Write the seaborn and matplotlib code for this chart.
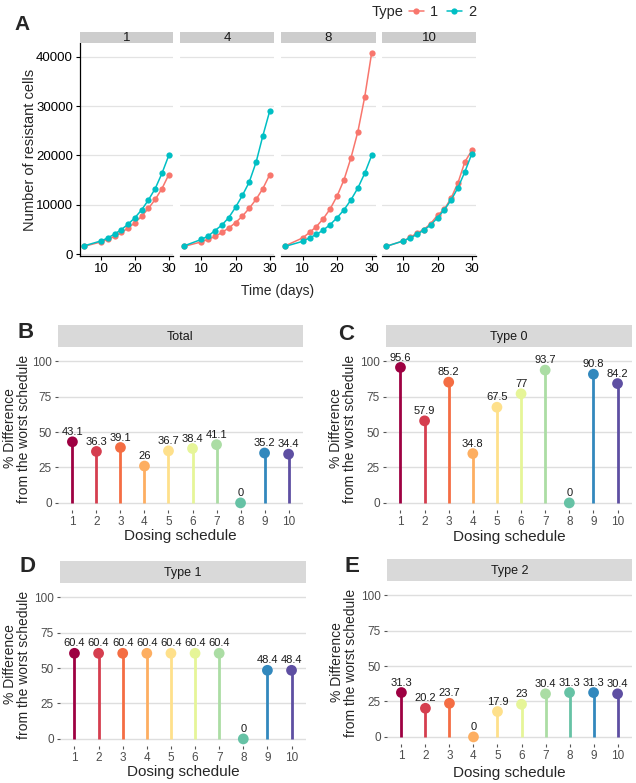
import pandas as pd
import matplotlib
matplotlib.use('Agg')
import matplotlib.pyplot as plt
import seaborn as sns

# --- data: panel A (resistant cells over time) ---
days = [5, 10, 12, 14, 16, 18, 20, 22, 24, 26, 28, 30]
facets = [1, 4, 8, 10]
type1_s1 = [1600, 2500, 3000, 3600, 4400, 5300, 6400, 7700, 9300, 11100, 13300, 16100]
type2_s1 = [1700, 2700, 3300, 4100, 5000, 6100, 7400, 9000, 11000, 13300, 16400, 20000]
type1_s4 = [1600, 2500, 3000, 3600, 4400, 5300, 6400, 7700, 9300, 11100, 13300, 16100]
type2_s4 = [1700, 3000, 3700, 4800, 5900, 7400, 9500, 11900, 14600, 18600, 24000, 29000]
type1_s8 = [1700, 3300, 4400, 5600, 7200, 9200, 11800, 15100, 19500, 24800, 31900, 40800]
type2_s8 = [1600, 2600, 3300, 4000, 4900, 6000, 7400, 9000, 11000, 13400, 16400, 20000]
type1_s10 = [1600, 2700, 3400, 4300, 5000, 6200, 7900, 9100, 11400, 14500, 18700, 21000]
type2_s10 = [1600, 2700, 3300, 4000, 4900, 5900, 7400, 9000, 11000, 13500, 16700, 20300]

# --- data: panels B-E (% difference from the worst schedule) ---
schedules = [1, 2, 3, 4, 5, 6, 7, 8, 9, 10]
diff_total = [43.1, 36.3, 39.1, 26, 36.7, 38.4, 41.1, 0, 35.2, 34.4]
diff_type0 = [95.6, 57.9, 85.2, 34.8, 67.5, 77, 93.7, 0, 90.8, 84.2]
diff_type1 = [60.4, 60.4, 60.4, 60.4, 60.4, 60.4, 60.4, 0, 48.4, 48.4]
diff_type2 = [31.3, 20.2, 23.7, 0, 17.9, 23, 30.4, 31.3, 31.3, 30.4]

W, H = 636, 783
type_colors = {'1': '#F8766D', '2': '#00BFC4'}
spectral = ['#9E0142', '#D53E4F', '#F46D43', '#FDAE61', '#FEE08B',
            '#E6F598', '#ABDDA4', '#66C2A5', '#3288BD', '#5E4FA2']

sns.set_theme(style='white')
plt.rcParams['font.family'] = ['Liberation Sans', 'DejaVu Sans']

fig = plt.figure(figsize=(W / 100, H / 100), dpi=100)


def px_axes(x0, y0, x1, y1):
    return fig.add_axes([x0 / W, 1 - y1 / H, (x1 - x0) / W, (y1 - y0) / H])


def strip(x0, y0, x1, y1, label, color, size):
    s = px_axes(x0, y0, x1, y1)
    s.set_facecolor(color)
    s.set_xticks([])
    s.set_yticks([])
    for sp in s.spines.values():
        sp.set_visible(False)
    s.text(0.5, 0.45, label, ha='center', va='center', fontsize=size,
           color='#1a1a1a', transform=s.transAxes)


def ftext(x, y, s, **kw):
    fig.text(x / W, 1 - y / H, s, **kw)


# ---------------- panel A ----------------
rows = []
series = {1: (type1_s1, type2_s1), 4: (type1_s4, type2_s4),
          8: (type1_s8, type2_s8), 10: (type1_s10, type2_s10)}
for f in facets:
    t1, t2 = series[f]
    for d, a, b in zip(days, t1, t2):
        rows.append((f, d, '1', a))
        rows.append((f, d, '2', b))
growth = pd.DataFrame(rows, columns=['schedule', 'day', 'Type', 'cells'])

ymax = growth.cells.max()
ymin = growth.cells.min()
pad = (ymax - ymin) * 0.05
x_edges = [(80, 173), (180, 274), (281, 376), (382, 476)]

handles = labels = None
for i, f in enumerate(facets):
    x0, x1 = x_edges[i]
    ax = px_axes(x0, 43, x1, 256)
    sub = growth[growth.schedule == f]
    sns.lineplot(data=sub, x='day', y='cells', hue='Type', hue_order=['1', '2'],
                 palette=type_colors, marker='o', markersize=4.5,
                 markeredgewidth=0, linewidth=1.1, errorbar=None,
                 legend=(i == 0), ax=ax)
    if i == 0:
        handles, labels = ax.get_legend_handles_labels()
        ax.get_legend().remove()
    ax.set_xlim(3.75, 31.25)
    ax.set_ylim(ymin - pad, ymax + pad)
    ax.set_xticks([10, 20, 30])
    ax.set_yticks([0, 10000, 20000, 30000, 40000])
    ax.set_xlabel('')
    ax.set_ylabel('')
    ax.yaxis.grid(True, color='#e3e3e3', lw=0.9)
    ax.set_axisbelow(True)
    for side in ['top', 'right']:
        ax.spines[side].set_visible(False)
    ax.spines['bottom'].set_color('black')
    ax.spines['bottom'].set_linewidth(0.9)
    if i == 0:
        ax.spines['left'].set_color('black')
        ax.spines['left'].set_linewidth(0.9)
        ax.tick_params(axis='y', left=True, length=3, width=0.8, color='black',
                       labelsize=9.5, labelcolor='black', pad=2)
    else:
        ax.spines['left'].set_visible(False)
        ax.tick_params(axis='y', left=False, labelleft=False)
    ax.tick_params(axis='x', bottom=True, length=3, width=0.8, color='black',
                   labelsize=9.5, labelcolor='black', pad=2)
    strip(x0, 32, x1, 43, str(f), '#cdcdcd', 9.5)

ftext(278, 291, 'Time (days)', ha='center', va='center', fontsize=10)
ftext(30, 150, 'Number of resistant cells', ha='center', va='center',
      rotation=90, fontsize=10.5)
ftext(372, 12, 'Type', ha='left', va='center', fontsize=10.5)
fig.legend(handles, labels, loc='center left', bbox_to_anchor=(409 / W, 1 - 12 / H),
           ncol=2, frameon=False, handlelength=1.0, handletextpad=0.45,
           columnspacing=0.6, fontsize=10.5, borderaxespad=0, borderpad=0)
ftext(22, 24, 'A', ha='center', va='center', fontsize=15, fontweight='bold')


# ---------------- panels B-E ----------------
def lollipop(rect, title, values, letter, letter_xy, ylab_x, xlab_y):
    x0, y0, x1, y1 = rect
    ax = px_axes(x0, y0, x1, y1)
    df = pd.DataFrame({'schedule': schedules, 'value': values,
                       'label': [str(s) for s in schedules]})
    ax.vlines(df.schedule, 0, df.value, colors=spectral, lw=2, zorder=2)
    sns.scatterplot(data=df, x='schedule', y='value', hue='label',
                    palette=dict(zip(df.label, spectral)), s=60, linewidth=0,
                    legend=False, ax=ax, zorder=3)
    for x, v in zip(schedules, values):
        ax.annotate(f'{v:g}', (x, v), xytext=(0, 3.5), textcoords='offset points',
                    ha='center', va='bottom', fontsize=8, color='#1a1a1a')
    ax.set_xlim(0.4, 10.6)
    ax.set_ylim(-5, 110)
    ax.set_xticks(schedules)
    ax.set_yticks([0, 25, 50, 75, 100])
    ax.set_xlabel('')
    ax.set_ylabel('')
    ax.yaxis.grid(True, color='#dedede', lw=1)
    ax.xaxis.grid(False)
    ax.set_axisbelow(True)
    for sp in ax.spines.values():
        sp.set_visible(False)
    ax.tick_params(axis='both', bottom=True, left=True, length=2.5, width=0.8,
                   color='#555555', labelsize=8.5, labelcolor='#4d4d4d', pad=2)
    strip(x0, y0 - 22, x1, y0, title, '#d9d9d9', 9)
    ftext((x0 + x1) / 2, xlab_y, 'Dosing schedule', ha='center', va='center',
          fontsize=11)
    ftext(ylab_x, (y0 + y1) / 2, '% Difference\nfrom the worst schedule',
          ha='center', va='center', rotation=90, fontsize=10, linespacing=1.0)
    ftext(letter_xy[0], letter_xy[1], letter, ha='center', va='center',
          fontsize=16, fontweight='bold')


lollipop((58, 347, 303, 510), 'Total', diff_total, 'B', (26, 332), 17, 536)
lollipop((386, 347, 632, 510), 'Type 0', diff_type0, 'C', (346, 334), 343, 537)
lollipop((60, 583, 306, 746), 'Type 1', diff_type1, 'D', (28, 567), 17, 772)
lollipop((387, 581, 632, 744), 'Type 2', diff_type2, 'E', (352, 567), 344, 773)

fig.savefig('out.png', dpi=100)
